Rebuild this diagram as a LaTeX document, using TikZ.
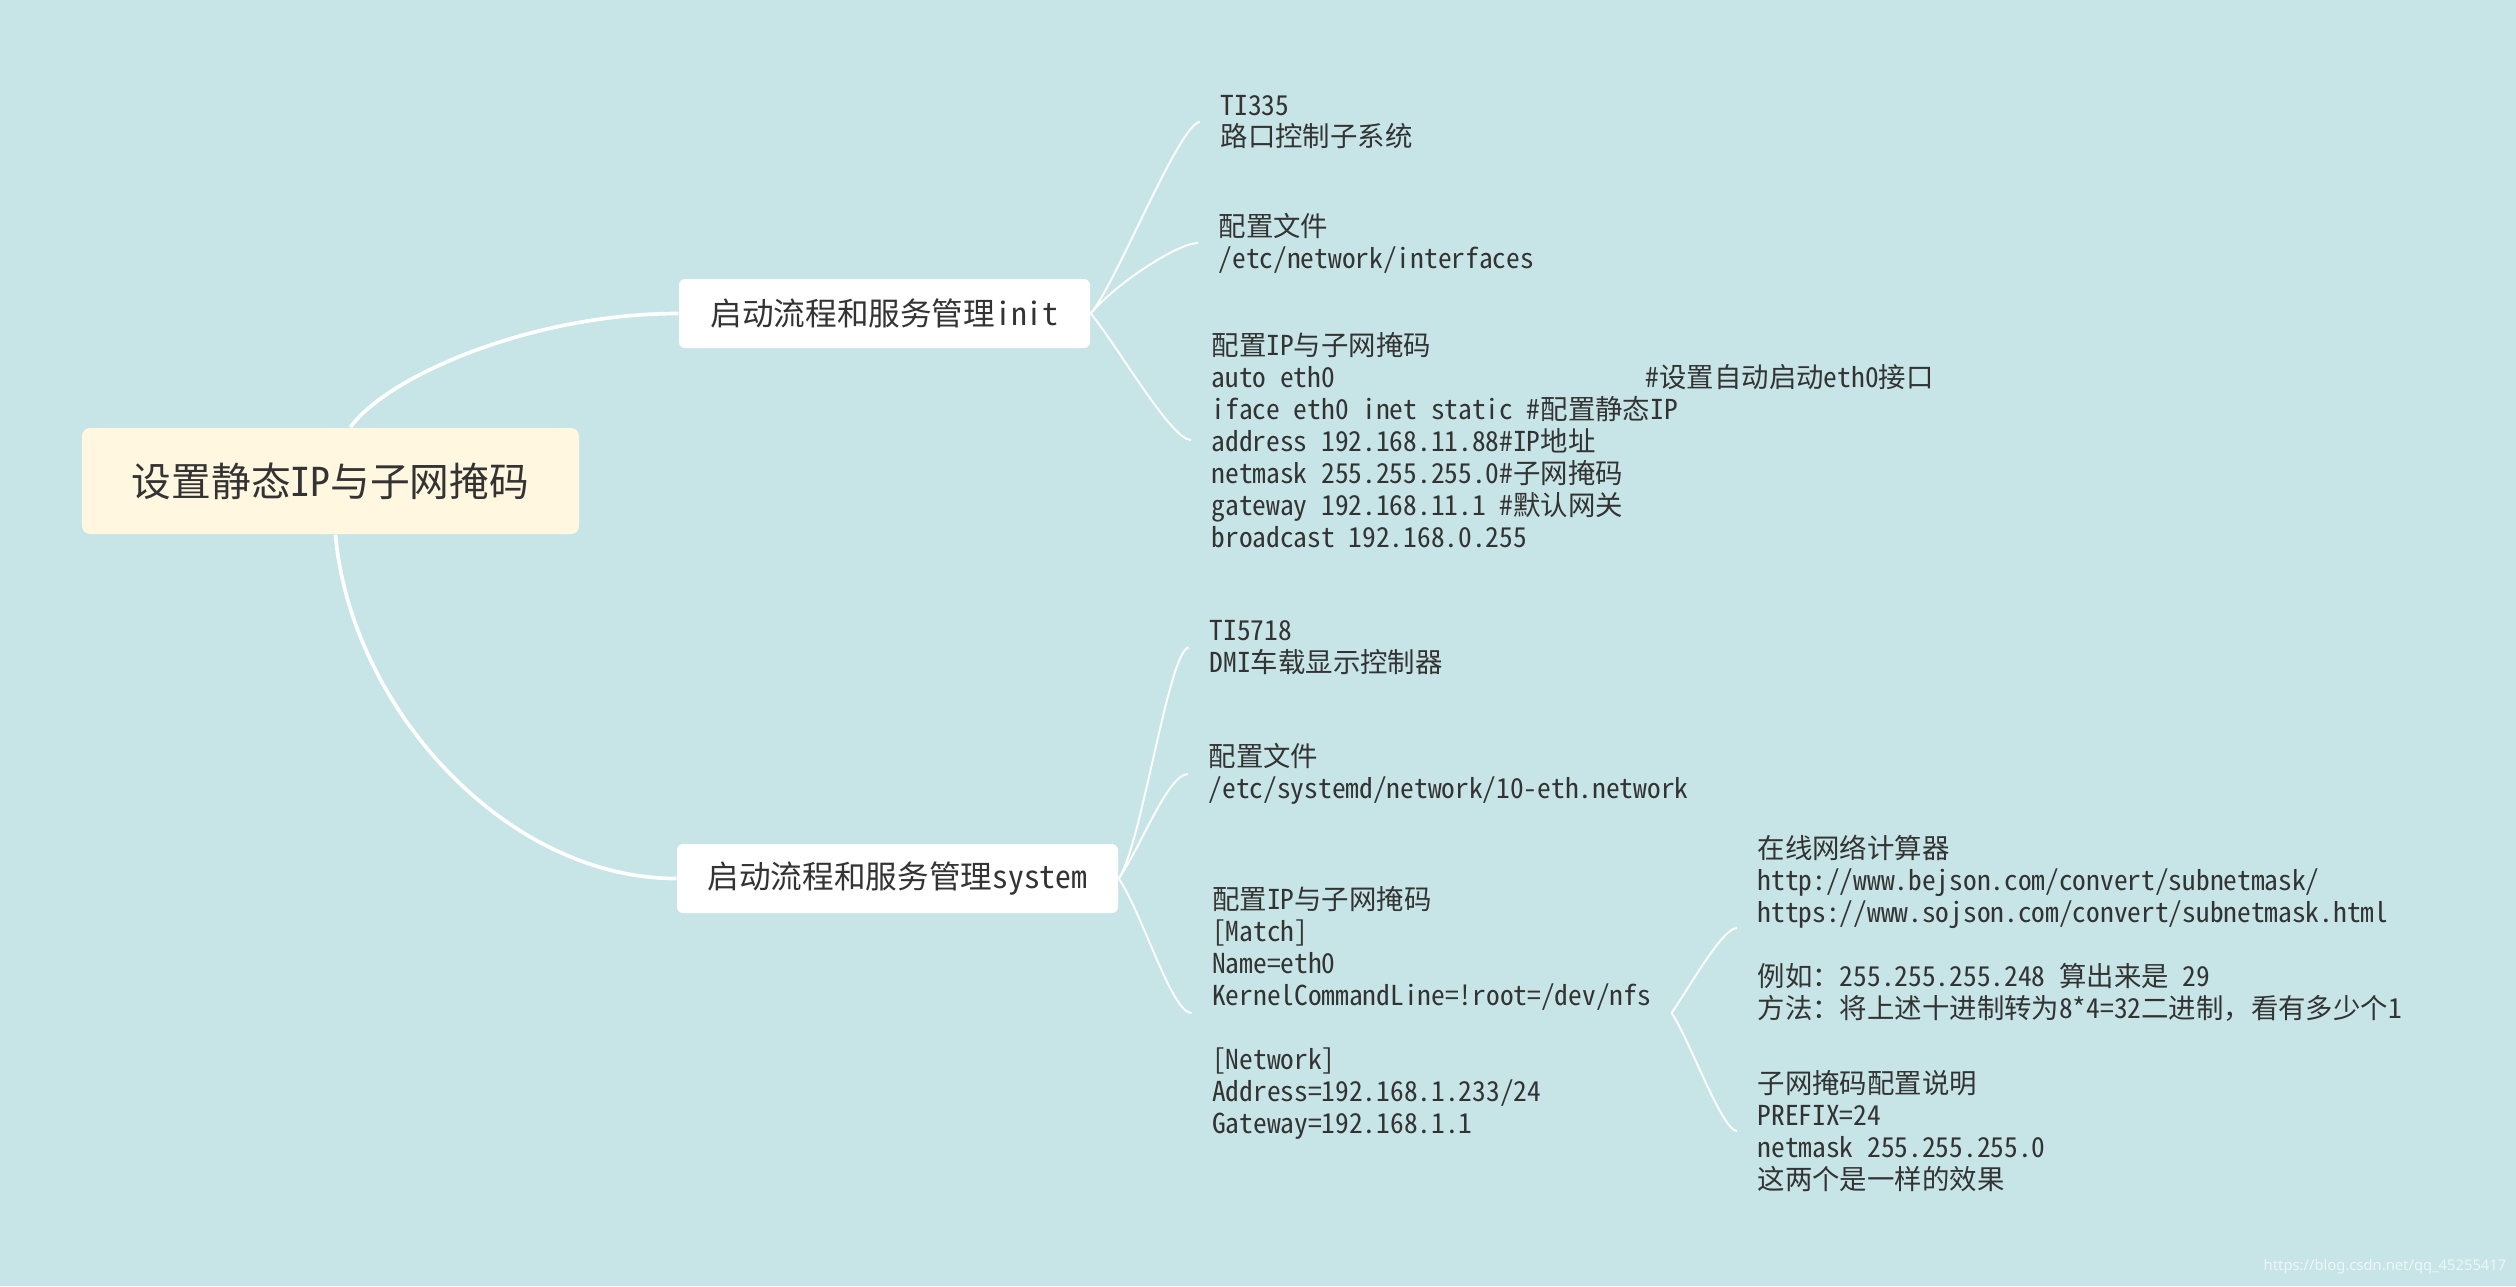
\documentclass[tikz,border=0pt]{standalone}
\usepackage{fontspec}
\setmainfont{Noto Sans CJK SC}[RawFeature=+hwid]
\newfontfamily\fullwidth{Noto Sans CJK SC}
\newfontfamily\markfont{Noto Sans}
\definecolor{mapbg}{RGB}{199,228,230}
\definecolor{rootfill}{RGB}{255,247,224}
\definecolor{ink}{RGB}{51,51,51}

\begin{document}
\begin{tikzpicture}[
  root/.style={rectangle, fill=rootfill, rounded corners=0.08cm, minimum width=4.97cm, minimum height=1.06cm, inner sep=0pt, text=ink, font=\fontsize{11.3pt}{13pt}\selectfont},
  branch/.style={rectangle, fill=white, rounded corners=0.06cm, minimum height=0.69cm, inner sep=0pt, text=ink, font=\fontsize{9pt}{11pt}\selectfont},
  leaf/.style={anchor=west, align=left, inner xsep=0.2cm, inner ysep=0pt, text=ink, font=\fontsize{7.8pt}{9.1pt}\selectfont},
  trunk/.style={draw=white, line width=1.05pt},
  twig/.style={draw=white, line width=0.55pt}
]

\fill[mapbg] (0,0) rectangle (25.16,-12.86);
\useasboundingbox (0,0) rectangle (25.16,-12.86);

\node[root] (root) at (3.305,-4.81) {设置静态IP与子网掩码};

\node[branch, minimum width=4.11cm] (init) at (8.845,-3.135) {启动流程和服务管理init};
\node[branch, minimum width=4.41cm] (system) at (8.975,-8.785) {启动流程和服务管理system};

\node[leaf] (board) at (12.00,-1.22) {TI335\\ 路口控制子系统};
\node[leaf] (ifile) at (11.98,-2.43) {配置文件\\ /etc/network/interfaces};
\node[leaf] (iconf) at (11.91,-4.40) {
  配置IP与子网掩码\\
  \makebox[4.34cm][l]{auto eth0}\#设置自动启动eth0接口\\
  iface eth0 inet static \#配置静态IP\\
  address 192.168.11.88\#IP地址\\
  netmask 255.255.255.0\#子网掩码\\
  gateway 192.168.11.1 \#默认网关\\
  broadcast 192.168.0.255
};

\node[leaf] (dmi) at (11.89,-6.475) {TI5718\\ DMI车载显示控制器};
\node[leaf] (sfile) at (11.88,-7.74) {配置文件\\ /etc/systemd/network/10-eth.network};
\node[leaf] (sconf) at (11.915,-10.13) {
  配置IP与子网掩码\\
  {[Match]}\\
  Name=eth0\\
  KernelCommandLine=!root=/dev/nfs\\
  \mbox{}\\
  {[Network]}\\
  Address=192.168.1.233/24\\
  Gateway=192.168.1.1
};

\node[leaf] (calc) at (17.37,-9.28) {
  在线网络计算器\\
  http://www.bejson.com/convert/subnetmask/\\
  https://www.sojson.com/convert/subnetmask.html\\
  \mbox{}\\
  例如{\fullwidth ：}255.255.255.248 算出来是 29\\
  方法{\fullwidth ：}将上述十进制转为8*4=32二进制{\fullwidth ，}看有多少个1
};
\node[leaf] (prefix) at (17.37,-11.31) {
  子网掩码配置说明\\
  PREFIX=24\\
  netmask 255.255.255.0\\
  这两个是一样的效果
};

\node[anchor=west, inner sep=0pt, text=white, opacity=0.7, font=\markfont\fontsize{4.2pt}{5pt}\selectfont] (mark) at (22.63,-12.67) {https://blog.csdn.net/qq\_45255417};

\draw[trunk] ([xshift=0.2cm]root.north) .. controls +(55:0.6) and +(-1.5,0) .. (init.west);
\draw[trunk] ([xshift=0.05cm]root.south) .. controls +(0.15,-1.72) and +(-1.71,0) .. (system.west);

\draw[twig] (init.east) .. controls +(50:0.4) and +(-0.2,0) .. (board.west);
\draw[twig] (init.east) .. controls +(50:0.4) and +(-0.2,0) .. (ifile.west);
\draw[twig] (init.east) .. controls +(-50:0.4) and +(-0.2,0) .. (iconf.west);

\draw[twig] (system.east) .. controls +(55:0.4) and +(-0.2,0) .. (dmi.west);
\draw[twig] (system.east) .. controls +(55:0.4) and +(-0.2,0) .. (sfile.west);
\draw[twig] (system.east) .. controls +(-55:0.4) and +(-0.2,0) .. (sconf.west);

\draw[twig] (sconf.east) .. controls +(55:0.3) and +(-0.15,0) .. (calc.west);
\draw[twig] (sconf.east) .. controls +(-55:0.3) and +(-0.15,0) .. (prefix.west);

\end{tikzpicture}
\end{document}
